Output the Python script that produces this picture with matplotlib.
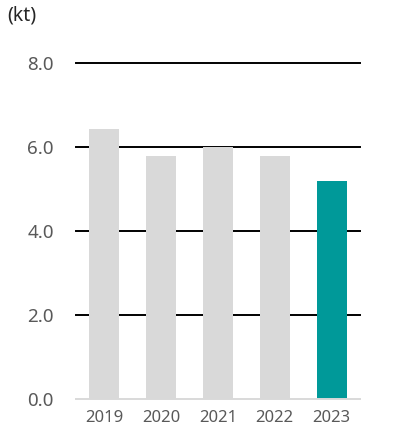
import matplotlib.pyplot as plt

years = ['2019', '2020', '2021', '2022', '2023']
values = [6.42, 5.79, 6.0, 5.78, 5.19]
bar_colors = ['#D9D9D9', '#D9D9D9', '#D9D9D9', '#D9D9D9', '#009999']
yticks = [0.0, 2.0, 4.0, 6.0, 8.0]


def main():
    plt.rcParams['font.family'] = ['Noto Sans', 'DejaVu Sans']
    fig = plt.figure(figsize=(3.95, 4.32), dpi=100)
    ax = fig.add_axes([76 / 395, 1 - 399 / 432, 284 / 395, (399 - 62.7) / 432])

    for y in yticks[1:]:
        ax.axhline(y, color='black', linewidth=1.4, zorder=1, clip_on=False)

    x = range(len(years))
    ax.bar(x, values, width=0.53, color=bar_colors, zorder=2)

    ax.set_xlim(-0.5, len(years) - 0.5)
    ax.set_ylim(0, 8)
    ax.set_yticks(yticks)
    ax.set_yticklabels([f'{v:.1f}' for v in yticks], fontsize=13.5, color='#595959')
    ax.set_xticks(list(x))
    ax.set_xticklabels(years, fontsize=12, color='#595959')
    ax.tick_params(axis='y', length=0, pad=16)
    ax.tick_params(axis='x', length=0, pad=8)

    for side in ['top', 'right', 'left']:
        ax.spines[side].set_visible(False)
    ax.spines['bottom'].set_color('#D9D9D9')
    ax.spines['bottom'].set_linewidth(1.4)
    ax.spines['bottom'].set_zorder(3)

    fig.text(7 / 395, 1 - 15 / 432, '(kt)', fontsize=14, color='#262626',
             ha='left', va='center')

    fig.savefig('out.png', dpi=100)


if __name__ == "__main__":
    main()
